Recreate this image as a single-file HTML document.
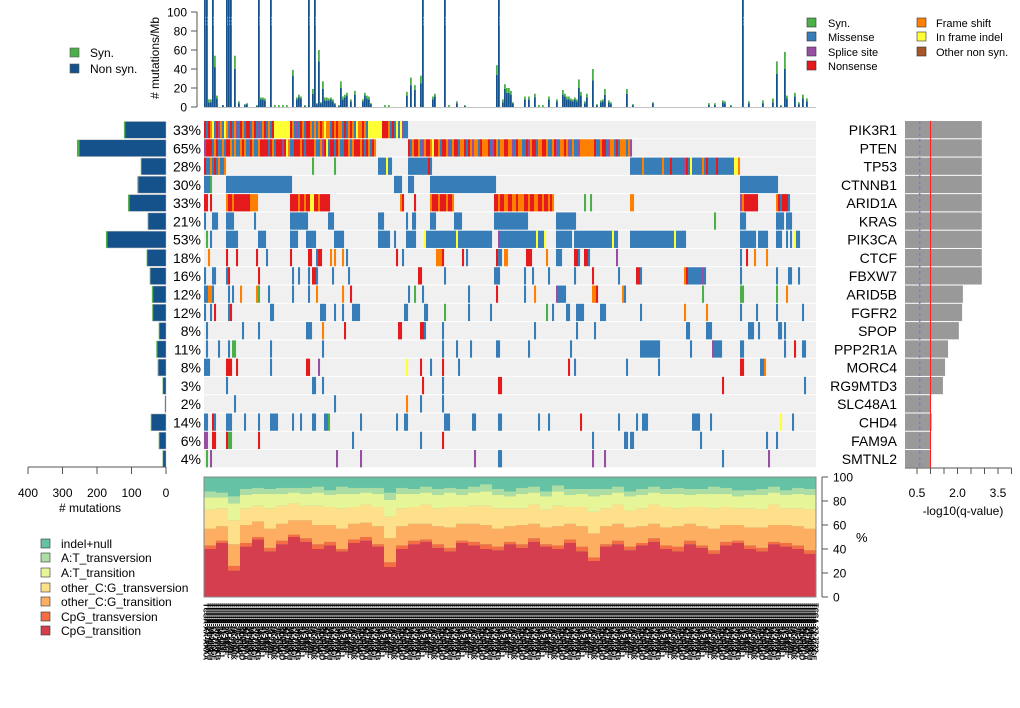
<!DOCTYPE html>
<html><head><meta charset="utf-8"><style>
html,body{margin:0;padding:0;background:#fff;width:1020px;height:708px;overflow:hidden}
svg{display:block;font-family:"Liberation Sans",sans-serif}
</style></head><body>
<svg id="root" width="1020" height="708" viewBox="0 0 1020 708" xmlns="http://www.w3.org/2000/svg">
<g id="gTop"></g>
<g id="gLeft"></g>
<g id="gMat"></g>
<g id="gRight"></g>
<g id="gSpec"></g>
<g id="gLab"></g>
<g id="gLeg">
  <g><rect x="70" y="48" width="9" height="9" fill="#4DAF4A" stroke="#555" stroke-width="0.6"/><text x="90" y="57" font-size="12">Syn.</text></g>
  <g><rect x="70" y="64" width="9" height="9" fill="#15518B" stroke="#555" stroke-width="0.6"/><text x="90" y="73" font-size="12">Non syn.</text></g>
  <g><rect x="807" y="18" width="9" height="9" fill="#4DAF4A" stroke="#333" stroke-width="0.6"/><text x="828" y="27" font-size="11">Syn.</text></g>
  <g><rect x="807" y="32" width="9" height="9" fill="#377EB8" stroke="#333" stroke-width="0.6"/><text x="828" y="41" font-size="11">Missense</text></g>
  <g><rect x="807" y="47" width="9" height="9" fill="#984EA3" stroke="#333" stroke-width="0.6"/><text x="828" y="56" font-size="11">Splice site</text></g>
  <g><rect x="807" y="61" width="9" height="9" fill="#E41A1C" stroke="#333" stroke-width="0.6"/><text x="828" y="70" font-size="11">Nonsense</text></g>
  <g><rect x="917" y="18" width="9" height="9" fill="#FF7F00" stroke="#333" stroke-width="0.6"/><text x="936" y="27" font-size="11">Frame shift</text></g>
  <g><rect x="917" y="32" width="9" height="9" fill="#FFFF33" stroke="#333" stroke-width="0.6"/><text x="936" y="41" font-size="11">In frame indel</text></g>
  <g><rect x="917" y="47" width="9" height="9" fill="#A65628" stroke="#333" stroke-width="0.6"/><text x="936" y="56" font-size="11">Other non syn.</text></g>
</g>
</svg>
<script>
const NS="http://www.w3.org/2000/svg";
function mk(parent,tag,attrs,txt){const e=document.createElementNS(NS,tag);for(const k in attrs)e.setAttribute(k,attrs[k]);if(txt!==undefined)e.textContent=txt;parent.appendChild(e);return e;}

// ---------- DATA ----------
const genes=["PIK3R1","PTEN","TP53","CTNNB1","ARID1A","KRAS","PIK3CA","CTCF","FBXW7","ARID5B","FGFR2","SPOP","PPP2R1A","MORC4","RG9MTD3","SLC48A1","CHD4","FAM9A","SMTNL2"];
const pct=["33%","65%","28%","30%","33%","21%","53%","18%","16%","12%","12%","8%","11%","8%","3%","2%","14%","6%","4%"];
const nonsynCount=[119,252,72,81,107,52,171,55,46,38,38,20,26,23,9,3,43,20,9];
const synCount=[3,6,1,2,3,1,3,1,1,3,2,1,2,1,1,0,1,1,1];
const qval=[2.9,2.9,2.9,2.9,2.9,2.9,2.9,2.9,2.9,2.2,2.17,2.05,1.65,1.54,1.46,1.02,1.04,1.02,1.02];
const qThreshold=1.0, qThreshold2=0.6;
const qTicks=[0.5,1.0,1.5,2.0,2.5,3.0,3.5,4.0];
const qTickLabels=["0.5","","","2.0","","","3.5",""];
const countTicks=[400,300,200,100,0];
const rateTicks=[0,20,40,60,80,100];
const pctTicks=[0,20,40,60,80,100];
const NS_SAMPLES=306;
const rateIdx=[0,1,2,3,4,5,6,9,11,12,13,15,17,20,21,26,27,28,29,30,33,35,37,39,41,44,46,47,48,50,52,54,55,56,57,58,59,60,61,62,63,64,65,67,68,69,70,71,73,75,79,80,81,82,83,90,92,101,103,105,108,109,114,115,120,122,126,130,146,147,149,150,151,152,153,154,160,162,165,167,169,172,176,179,180,181,182,183,184,185,186,187,188,190,191,194,196,198,199,200,202,203,211,214,224,252,255,259,260,263,269,272,279,284,286,288,290,291,295,297,299,301];
const rateNon=[130,130,5,5,130,42,9,2,130,130,130,40,4,2,3,1,130,8,8,7,130,0,0,0,0,33,8,10,9,1,130,14,130,3,48,4,19,7,7,7,8,6,3,1,20,8,10,12,6,13,6,12,9,8,3,0,0,12,23,18,25,130,8,11,130,0,4,1,34,130,5,19,15,15,13,4,8,8,10,0,0,8,6,13,11,8,8,7,6,8,6,20,12,4,10,28,2,5,6,13,5,3,14,2,4,2,2,5,4,1,130,4,4,5,35,1,40,9,11,3,9,6];
const rateSyn=[0,0,3,3,0,12,3,0,0,0,0,14,2,1,1,1,5,2,2,2,8,2,2,2,2,6,2,3,2,1,0,5,0,1,12,1,8,3,3,2,2,2,1,1,7,3,3,3,2,4,2,3,3,3,1,2,2,4,8,5,8,0,3,3,0,2,2,1,10,0,3,5,5,5,4,1,3,3,4,2,2,3,2,5,3,3,3,2,2,2,2,9,4,2,4,12,1,2,2,6,2,2,5,1,1,2,2,2,2,1,0,2,3,4,13,1,18,3,4,2,4,3];
const matrix=[
 [[0,"nmnfimnpfmifmnmfpmnfmnnmfnmpmfnmfmniiiiiiiinfmpmnfmnnfmfmfnfiffmnfnffmnmfnfmiffnfmiiiiiiinnnfmnmimipmm"]],
 [[0,"pnnnmfnmmfmnnfmfmmfnfmmnfmmfnnnnmnfmnnnpnifmmnnnfnmnnnnfmmfpnimnnmnfmmnnfmfnnnfnmnfmnf"],[102,"nmfnnfmpfnnfinnfmnnfpmfnnmffnmnfpffmnfffnmpnfmffnnffpmnffmmnpfnnmffnnfmmfnpmffnfpmfmmpfffffffnmmfnnmpffmnmfffmfp"]],
 [[0,"nmmfmnmfmmf"],[54,54,"s"],[65,65,"s"],[87,"mmmmimm"],[102,"mmmmmmmmmmnm"],[213,"mmmmmmfmmmmmmmmmfmmmnmmmmmmpnmimmmmmfmnmmmmnmmmmmmmmiif"]],
 [[0,2,"m"],[3,3,"s"],[11,43,"m"],[95,98,"m"],[102,104,"m"],[113,145,"m"],[268,286,"m"]],
 [[0,1,"n"],[3,3,"n"],[11,"fnnfnnnnnnnnffff"],[43,"nnnnfnnfnnyinnfnnnnn"],[98,"fn"],[105,105,"n"],[113,"fnnnfnnnfnnf"],[145,"nnfnnffnnffnfffnnfnnffnnfnnfnf"],[190,190,"s"],[193,193,"s"],[213,214,"f"],[268,"pfnnnnnnn"],[286,"fnmnnnm"]],
 [[0,0,"m"],[4,6,"m"],[11,14,"m"],[25,25,"m"],[43,51,"m"],[62,64,"m"],[87,89,"m"],[101,101,"m"],[104,105,"m"],[113,115,"m"],[125,128,"m"],[145,161,"m"],[176,185,"m"],[255,255,"s"],[268,270,"m"],[286,289,"m"],[291,293,"m"]],
 [[1,1,"s"],[3,3,"m"],[11,16,"m"],[27,30,"m"],[43,46,"m"],[51,55,"m"],[65,69,"m"],[87,92,"m"],[95,95,"m"],[101,105,"m"],[110,110,"i"],[111,125,"m"],[126,126,"i"],[127,143,"m"],[147,147,"p"],[148,165,"m"],[166,166,"i"],[167,169,"m"],[170,170,"i"],[176,183,"m"],[185,203,"m"],[204,204,"i"],[205,206,"m"],[213,234,"m"],[235,235,"i"],[236,240,"m"],[268,275,"m"],[277,281,"m"],[286,288,"m"],[291,291,"m"],[293,293,"m"],[295,295,"i"],[296,297,"m"]],
 [[2,2,"f"],[11,11,"n"],[16,16,"n"],[26,26,"n"],[31,31,"m"],[43,43,"n"],[52,53,"n"],[56,56,"m"],[57,58,"n"],[63,63,"f"],[65,65,"f"],[69,69,"f"],[71,71,"m"],[96,96,"n"],[99,99,"m"],[116,118,"f"],[119,119,"n"],[129,129,"n"],[131,131,"m"],[146,146,"n"],[147,148,"m"],[150,151,"f"],[161,163,"n"],[171,171,"f"],[176,178,"m"],[185,186,"n"],[187,187,"m"],[190,191,"n"],[192,192,"m"],[206,206,"p"],[268,268,"m"],[271,271,"n"],[275,275,"f"],[281,281,"f"]],
 [[0,0,"m"],[4,5,"m"],[11,11,"m"],[12,12,"n"],[27,27,"n"],[44,44,"m"],[47,47,"m"],[52,52,"m"],[54,55,"n"],[56,56,"m"],[64,64,"m"],[72,72,"m"],[107,108,"n"],[120,120,"m"],[145,147,"m"],[160,160,"m"],[164,164,"m"],[172,172,"m"],[185,185,"m"],[194,194,"n"],[207,207,"m"],[216,217,"n"],[218,218,"m"],[240,240,"f"],[241,241,"n"],[242,248,"m"],[249,249,"p"],[250,250,"m"],[268,268,"m"],[286,286,"m"],[292,293,"m"],[297,297,"m"]],
 [[0,1,"m"],[2,3,"f"],[4,4,"m"],[12,12,"m"],[14,14,"m"],[18,18,"f"],[26,26,"f"],[27,27,"s"],[32,32,"m"],[44,44,"m"],[52,52,"m"],[56,56,"f"],[69,69,"f"],[73,73,"n"],[102,102,"m"],[105,105,"s"],[109,109,"m"],[132,132,"m"],[146,146,"n"],[160,160,"m"],[165,165,"f"],[176,176,"p"],[177,180,"m"],[194,195,"f"],[196,196,"n"],[209,209,"f"],[210,210,"m"],[249,249,"s"],[268,269,"s"],[286,286,"s"],[291,291,"f"]],
 [[0,0,"m"],[3,3,"m"],[5,5,"n"],[12,12,"m"],[13,13,"n"],[33,34,"m"],[58,60,"m"],[65,65,"m"],[69,69,"m"],[74,77,"m"],[100,101,"m"],[110,111,"m"],[120,120,"s"],[132,132,"m"],[143,143,"m"],[171,171,"s"],[174,174,"m"],[181,182,"m"],[186,189,"m"],[198,200,"m"],[218,218,"m"],[240,240,"f"],[251,251,"f"],[268,268,"m"],[276,276,"m"],[286,286,"m"],[299,299,"m"]],
 [[1,1,"m"],[19,19,"m"],[27,27,"m"],[51,53,"m"],[59,59,"f"],[70,70,"n"],[97,98,"n"],[108,109,"n"],[110,110,"m"],[119,119,"m"],[165,165,"m"],[186,186,"m"],[195,195,"m"],[241,242,"m"],[251,253,"m"],[272,274,"m"],[277,277,"m"],[287,288,"m"],[290,290,"m"]],
 [[1,1,"m"],[7,7,"m"],[12,12,"m"],[14,15,"s"],[33,33,"m"],[59,59,"m"],[119,119,"m"],[126,126,"m"],[133,133,"m"],[146,147,"m"],[162,162,"m"],[183,183,"m"],[218,227,"m"],[243,243,"m"],[254,254,"p"],[255,258,"m"],[268,269,"m"],[290,290,"m"],[295,295,"n"],[299,300,"m"]],
 [[0,2,"m"],[11,13,"n"],[16,16,"n"],[33,33,"m"],[51,52,"n"],[57,57,"p"],[101,101,"i"],[108,108,"n"],[113,113,"m"],[119,119,"n"],[127,127,"m"],[182,182,"n"],[185,185,"m"],[211,211,"m"],[227,227,"m"],[268,269,"n"],[278,279,"m"],[280,280,"f"]],
 [[11,11,"m"],[54,55,"m"],[59,59,"m"],[109,109,"n"],[119,119,"m"],[147,148,"n"],[259,259,"n"],[300,300,"m"]],
 [[15,15,"m"],[65,65,"m"],[101,101,"f"],[108,108,"m"],[119,119,"m"]],
 [[0,1,"m"],[4,4,"n"],[5,5,"m"],[11,13,"m"],[20,20,"m"],[27,27,"m"],[33,36,"m"],[44,44,"m"],[48,48,"m"],[54,55,"m"],[60,61,"m"],[62,62,"s"],[78,78,"m"],[96,96,"m"],[100,101,"m"],[120,122,"m"],[134,135,"m"],[147,148,"m"],[167,167,"m"],[172,172,"m"],[188,188,"n"],[207,207,"m"],[216,216,"m"],[219,221,"m"],[244,247,"m"],[253,253,"m"],[288,288,"i"],[294,294,"m"]],
 [[0,1,"p"],[4,5,"n"],[11,11,"n"],[12,13,"s"],[27,27,"n"],[74,74,"m"],[108,108,"m"],[119,119,"n"],[194,194,"m"],[210,211,"m"],[213,214,"m"],[248,248,"m"],[281,281,"m"],[286,286,"m"]],
 [[1,1,"s"],[3,3,"p"],[66,66,"p"],[78,78,"p"],[135,135,"p"],[147,148,"m"],[194,194,"p"],[200,200,"p"],[259,259,"m"],[282,282,"p"]]
];
const specRed=[40,45,22,42,48,38,44,50,46,40,43,38,45,47,42,25,40,44,46,41,38,45,43,40,39,44,41,46,42,40,45,38,30,42,44,39,43,46,40,38,44,41,36,43,45,40,38,44,42,40,36];
const specCpgTv=[3,2,4,3,2,3,3,2,3,4,3,2,3,3,2,4,3,3,2,3,3,2,3,4,3,2,3,3,2,3,3,4,3,2,3,3,2,3,3,4,3,2,3,3,2,3,3,2,3,3,3];
const specOcgTs=[14,12,18,15,13,16,14,12,15,16,14,17,13,12,15,20,16,14,13,15,17,14,15,16,15,13,16,12,14,16,13,17,20,15,14,16,14,12,15,17,14,16,18,14,13,15,17,14,15,16,18];
const specOcgTv=[16,15,20,14,13,17,15,14,12,16,15,17,14,15,16,18,15,14,16,15,17,14,15,16,17,15,14,16,15,17,14,16,18,15,16,14,15,16,17,15,14,16,17,15,14,16,15,17,14,15,16];
const specAtTs=[10,9,14,11,10,12,10,9,10,11,10,12,11,10,11,14,12,11,10,11,12,10,11,12,11,10,12,10,11,12,10,11,13,11,10,12,11,10,11,12,10,11,12,11,10,11,12,10,11,12,12];
const specAtTv=[5,4,6,5,5,4,5,4,5,5,4,6,5,4,5,6,5,4,5,5,4,5,5,6,5,4,5,5,4,5,5,4,6,5,5,4,5,5,4,5,5,4,6,5,5,4,5,5,4,5,5];
const specNames=["CpG_transition","CpG_transversion","other_C:G_transition","other_C:G_transversion","A:T_transition","A:T_transversion","indel+null"];
const specColors=["#D53E4F","#F46D43","#FDAE61","#FEE08B","#E6F598","#ABDDA4","#66C2A5"];
const GROUP=6;

const COL={s:"#4DAF4A",m:"#377EB8",p:"#984EA3",n:"#E41A1C",f:"#FF7F00",i:"#FFFF33",y:"#FFFF33",o:"#A65628"};
const TYPENAME={s:"syn",m:"missense",p:"splice",n:"nonsense",f:"frameshift",i:"inframe",y:"inframe",o:"other"};

const MX0=204,MX1=816;
const sw=(MX1-MX0)/NS_SAMPLES;
const xs=i=>MX0+i*sw;
const RY0=121,RH=18.28;
const ry=r=>RY0+r*RH;
const yRate=v=>107-0.95*Math.min(v,120);
const xCount=v=>166-0.345*v;
const xQ=v=>903.5+27*v;
const ySpec=v=>597-1.2*v;

const gTop=document.getElementById('gTop');
rateIdx.forEach((s,k)=>{
  const x=xs(s);
  const n=rateNon[k], sy=rateSyn[k];
  if(n>0){const r=mk(gTop,'rect',{x:x,y:yRate(n),width:sw*0.9,height:107-yRate(n),fill:'#15518B'});
  
  }
  if(sy>0){const r2=mk(gTop,'rect',{x:x,y:yRate(n+sy),width:sw*0.9,height:yRate(n)-yRate(n+sy),fill:'#4DAF4A'});
  
  }
  if(n>100){const t=mk(gTop,'text',{x:0,y:0,'font-size':6,fill:'#fff',transform:`translate(${x+1.5},16) rotate(90)`},String(Math.round(n*2.6)));
  
  }
});
mk(gTop,'line',{x1:197,y1:yRate(0),x2:197,y2:yRate(100),stroke:'#555'});
rateTicks.forEach(v=>{
  mk(gTop,'line',{x1:191,y1:yRate(v),x2:197,y2:yRate(v),stroke:'#555'});
  const t=mk(gTop,'text',{x:187,y:yRate(v)+4.5,'font-size':12,'text-anchor':'end'},String(v));
  
  
});
{const t=mk(gTop,'text',{x:0,y:0,'font-size':12,'text-anchor':'middle',transform:'translate(159,58) rotate(-90)'},'# mutations/Mb');

}
mk(gTop,'line',{x1:MX0,y1:107.5,x2:MX1,y2:107.5,stroke:'#888','stroke-width':0.6});

const gMat=document.getElementById('gMat');
genes.forEach((g,r)=>{
  const bg=mk(gMat,'rect',{x:MX0,y:ry(r),width:MX1-MX0,height:RH-1,fill:'#F0F0F0'});
  
  
  matrix[r].forEach(it=>{
    let cells=[];
    if(typeof it[1]==='string'){for(let k=0;k<it[1].length;k++)cells.push([it[0]+k,it[1][k]]);}
    else{for(let k=it[0];k<=it[1];k++)cells.push([k,it[2]]);}
    cells.forEach(([s,t])=>{
      if(s>=NS_SAMPLES)return;
      const c=mk(gMat,'rect',{x:xs(s),y:ry(r),width:sw+0.05,height:RH-1,fill:COL[t]});
      
      
    });
  });
  const pt=mk(gMat,'text',{x:201,y:ry(r)+14,'font-size':14,'text-anchor':'end'},pct[r]);
  
  
  const gl=mk(gMat,'text',{x:897,y:ry(r)+14,'font-size':14,'text-anchor':'end'},g);
  
  
});

const gLeft=document.getElementById('gLeft');
genes.forEach((g,r)=>{
  const n=nonsynCount[r], s=synCount[r];
  const b=mk(gLeft,'rect',{x:xCount(n),y:ry(r)+0.5,width:166-xCount(n),height:RH-1.5,fill:'#15518B',stroke:'#bbb','stroke-width':0.5});
  
  
  if(s>0){const b2=mk(gLeft,'rect',{x:xCount(n+s),y:ry(r)+0.5,width:xCount(n)-xCount(n+s),height:RH-1.5,fill:'#4DAF4A'});
  
  }
});
mk(gLeft,'line',{x1:xCount(400),y1:467,x2:xCount(0),y2:467,stroke:'#555'});
countTicks.forEach(v=>{
  mk(gLeft,'line',{x1:xCount(v),y1:467,x2:xCount(v),y2:474,stroke:'#555'});
  const t=mk(gLeft,'text',{x:xCount(v),y:497,'font-size':12,'text-anchor':'middle'},String(v));
  
  
});
{const t=mk(gLeft,'text',{x:90,y:512,'font-size':12,'text-anchor':'middle'},'# mutations');

}

const gRight=document.getElementById('gRight');
genes.forEach((g,r)=>{
  const b=mk(gRight,'rect',{x:905,y:ry(r),width:xQ(qval[r])-905,height:RH-1,fill:'#999'});
  
  
});
mk(gRight,'line',{x1:xQ(qThreshold2),y1:ry(0),x2:xQ(qThreshold2),y2:ry(19)-1,stroke:'#9A6FC8','stroke-width':1.5,'stroke-dasharray':'3,3'});
mk(gRight,'line',{x1:xQ(qThreshold),y1:ry(0),x2:xQ(qThreshold),y2:ry(19)-1,stroke:'#FF2020','stroke-width':1});
mk(gRight,'line',{x1:905,y1:468,x2:xQ(4.0),y2:468,stroke:'#555'});
qTicks.forEach((v,k)=>{
  mk(gRight,'line',{x1:xQ(v),y1:468,x2:xQ(v),y2:474,stroke:'#555'});
  if(qTickLabels[k]){const t=mk(gRight,'text',{x:xQ(v),y:497,'font-size':12,'text-anchor':'middle'},qTickLabels[k]);
  
  }
});
{const t=mk(gRight,'text',{x:963,y:515,'font-size':12,'text-anchor':'middle'},'-log10(q-value)');

}

const gSpec=document.getElementById('gSpec');
mk(gSpec,'rect',{x:MX0,y:ySpec(100),width:MX1-MX0,height:ySpec(0)-ySpec(100),fill:'#66C2A5'});
specRed.forEach((v,gi)=>{
  const comps=[specRed[gi],specCpgTv[gi],specOcgTs[gi],specOcgTv[gi],specAtTs[gi],specAtTv[gi]];
  comps.push(Math.max(0,100-comps.reduce((a,b)=>a+b,0)));
  let acc=0;
  const x=xs(gi*GROUP), w=sw*GROUP;
  comps.forEach((c,ci)=>{
    const r=mk(gSpec,'rect',{x:x,y:ySpec(acc+c),width:w+0.1,height:ySpec(acc)-ySpec(acc+c),fill:specColors[ci]});
    
    
    acc+=c;
  });
});
mk(gSpec,'rect',{x:MX0,y:ySpec(100),width:MX1-MX0,height:ySpec(0)-ySpec(100),fill:'none',stroke:'#888'});
mk(gSpec,'line',{x1:822,y1:ySpec(0),x2:822,y2:ySpec(100),stroke:'#555'});
pctTicks.forEach(v=>{
  mk(gSpec,'line',{x1:822,y1:ySpec(v),x2:828,y2:ySpec(v),stroke:'#555'});
  const t=mk(gSpec,'text',{x:833,y:ySpec(v)+4.5,'font-size':12},String(v));
  
  
});
{const t=mk(gSpec,'text',{x:856,y:542,'font-size':13},'%');

}
const legY=[544,558,573,588,602,617,631];
const legOrder=[6,5,4,3,2,1,0];
legOrder.forEach((ci,k)=>{
  const g=mk(gSpec,'g',{});
  
  
  mk(g,'rect',{x:41,y:legY[k]-5,width:9,height:9,fill:specColors[ci],stroke:'#333','stroke-width':0.6});
  mk(g,'text',{x:61,y:legY[k]+4,'font-size':12},specNames[ci]);
});

const gLab=document.getElementById('gLab');
const codes="A0B1C2D3E4F5G6H7J8K9";
for(let i=0;i<NS_SAMPLES;i++){
  const id="TCGA-"+codes[i%20]+codes[(i*7)%20]+"-"+codes[(i*3)%20]+codes[(i*11)%20]+codes[(i*13)%20]+codes[(i*17)%20];
  const t=mk(gLab,'text',{x:0,y:0,'font-size':7.6,'font-weight':'bold',fill:'#000','letter-spacing':'-0.2',transform:`translate(${xs(i)-0.5},603) rotate(90)`},id);
  
  
}
</script>
</body></html>
